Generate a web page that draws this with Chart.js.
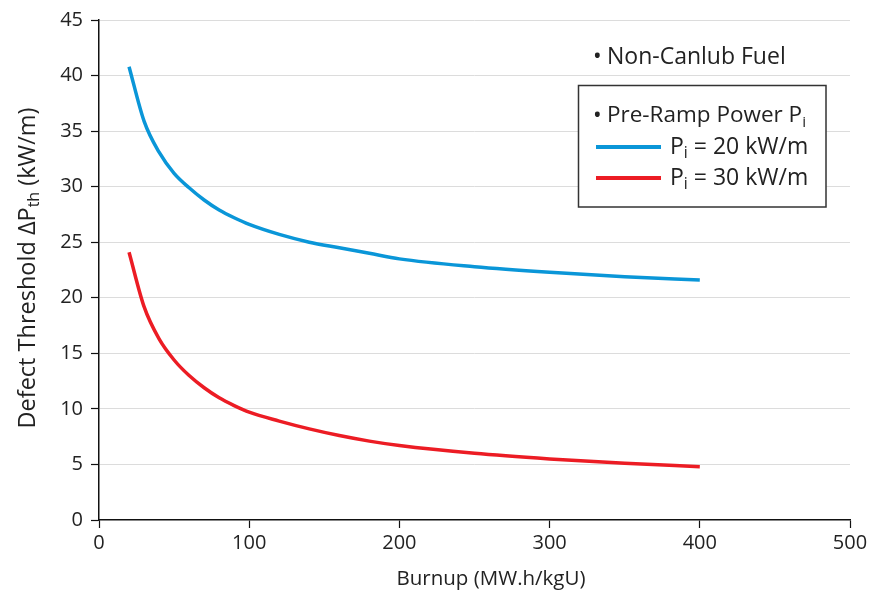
<!DOCTYPE html>
<html>
<head>
<meta charset="utf-8">
<script src="https://cdn.jsdelivr.net/npm/chart.js@4.4.0/dist/chart.umd.min.js"></script>
<style>
  html, body { margin: 0; padding: 0; background: #fff; }
  #wrap { width: 872px; height: 600px; }
</style>
</head>
<body>
<div id="wrap"><canvas id="myChart"></canvas></div>
<script>
// burnup values (MW.h/kgU) where the curves were read
const burnup = [20, 30, 40, 50, 60, 70, 80, 90, 100, 120, 140, 160, 180, 200, 250, 300, 350, 400]
// defect threshold for Pi = 20 kW/m
const threshold20 = [40.8, 35.9, 33.1, 31.2, 29.9, 28.8, 27.9, 27.2, 26.6, 25.7, 25.0, 24.5, 24.0, 23.5, 22.8, 22.3, 21.9, 21.6]
// defect threshold for Pi = 30 kW/m
const threshold30 = [24.1, 19.2, 16.3, 14.4, 13.0, 11.9, 11.0, 10.3, 9.7, 8.9, 8.2, 7.6, 7.1, 6.7, 6.0, 5.5, 5.1, 4.8]

const xTicks = [0, 100, 200, 300, 400, 500]
const yTicks = [0, 5, 10, 15, 20, 25, 30, 35, 40, 45]

const blue = '#0a96d8'
const red = '#ec1c24'
const font = '"Open Sans", "Noto Sans", sans-serif'

const toPoints = (xs, ys) => xs.map((x, i) => ({ x: x, y: ys[i] }))

// draws text with optional subscript pieces, returns total width
const richText = (ctx, parts, x, y, size, draw) => {
    let cx = x
    parts.forEach(p => {
        const s = p.sub ? size * 0.68 : size
        ctx.font = `${s}px ${font}`
        if (draw) ctx.fillText(p.t, cx, p.sub ? y + size * 0.28 : y)
        cx += ctx.measureText(p.t).width
    })
    return cx - x
}

const annotations = {
    id: 'annotations',
    afterDraw(chart) {
        const ctx = chart.ctx
        const area = chart.chartArea
        ctx.save()
        ctx.fillStyle = '#222'
        ctx.textBaseline = 'middle'
        ctx.textAlign = 'left'

        // x axis title
        const xParts = [{ t: 'Burnup (MW.h/kgU)' }]
        const xw = richText(ctx, xParts, 0, 0, 20.5, false)
        richText(ctx, xParts, 491 - xw / 2, 579, 20.5, true)

        // y axis title
        const yParts = [{ t: 'Defect Threshold ΔP' }, { t: 'th', sub: true }, { t: ' (kW/m)' }]
        const yw = richText(ctx, yParts, 0, 0, 23.5, false)
        ctx.save()
        ctx.translate(28, 268)
        ctx.rotate(-Math.PI / 2)
        richText(ctx, yParts, -yw / 2, 0, 23.5, true)
        ctx.restore()

        // legend
        const ds = chart.data.datasets
        ctx.font = `23px ${font}`
        ctx.fillText('•', 593, 57)
        ctx.fillText('Non-Canlub Fuel', 607, 57)

        ctx.fillStyle = '#fff'
        ctx.fillRect(578.5, 85.5, 247.5, 121.5)
        ctx.strokeStyle = '#333'
        ctx.lineWidth = 1.5
        ctx.strokeRect(578.5, 85.5, 247.5, 121.5)

        ctx.fillStyle = '#222'
        ctx.font = `23px ${font}`
        ctx.fillText('•', 593, 116)
        richText(ctx, [{ t: 'Pre-Ramp Power P' }, { t: 'i', sub: true }], 607, 116, 22.5, true)

        const rows = [[ds[0], 147, '20'], [ds[1], 178, '30']]
        rows.forEach(([d, y, v]) => {
            ctx.strokeStyle = d.borderColor
            ctx.lineWidth = 4
            ctx.beginPath()
            ctx.moveTo(596, y)
            ctx.lineTo(661, y)
            ctx.stroke()
            richText(ctx, [{ t: 'P' }, { t: 'i', sub: true }, { t: ` = ${v} kW/m` }], 670, y, 23, true)
        })
        ctx.restore()
    }
}

const ctx = document.getElementById('myChart')
new Chart(ctx, {
    type: 'line',
    data: {
        datasets: [
            {
                label: 'Pi = 20 kW/m',
                data: toPoints(burnup, threshold20),
                borderColor: blue,
                borderWidth: 3.5,
                pointRadius: 0,
                tension: 0.4,
                cubicInterpolationMode: 'monotone'
            },
            {
                label: 'Pi = 30 kW/m',
                data: toPoints(burnup, threshold30),
                borderColor: red,
                borderWidth: 3.5,
                pointRadius: 0,
                tension: 0.4,
                cubicInterpolationMode: 'monotone'
            }
        ]
    },
    options: {
        responsive: true,
        maintainAspectRatio: false,
        animation: false,
        layout: { padding: { top: 19, right: 22, left: 0, bottom: 0 } },
        plugins: {
            legend: { display: false },
            tooltip: { enabled: false }
        },
        scales: {
            x: {
                type: 'linear',
                min: 0,
                max: 500,
                afterBuildTicks: axis => { axis.ticks = xTicks.map(v => ({ value: v })) },
                afterFit: axis => { axis.height = 80 },
                border: { color: '#111', width: 1.5 },
                grid: {
                    color: 'rgba(0,0,0,0)',
                    tickColor: '#111',
                    tickLength: 8,
                    tickWidth: 1.2
                },
                ticks: {
                    color: '#222',
                    font: { family: font, size: 20 },
                    padding: 3,
                    maxRotation: 0
                }
            },
            y: {
                min: 0,
                max: 45,
                afterBuildTicks: axis => { axis.ticks = yTicks.map(v => ({ value: v })) },
                afterFit: axis => { axis.width = 99 },
                border: { color: '#111', width: 1.5 },
                grid: {
                    color: c => (c.tick && c.tick.value === 0) ? 'rgba(0,0,0,0)' : '#dcdcdc',
                    tickColor: '#111',
                    tickLength: 8,
                    tickWidth: 1.2
                },
                ticks: {
                    color: '#222',
                    font: { family: font, size: 20 },
                    padding: 8
                }
            }
        }
    },
    plugins: [annotations]
})
</script>
</body>
</html>
